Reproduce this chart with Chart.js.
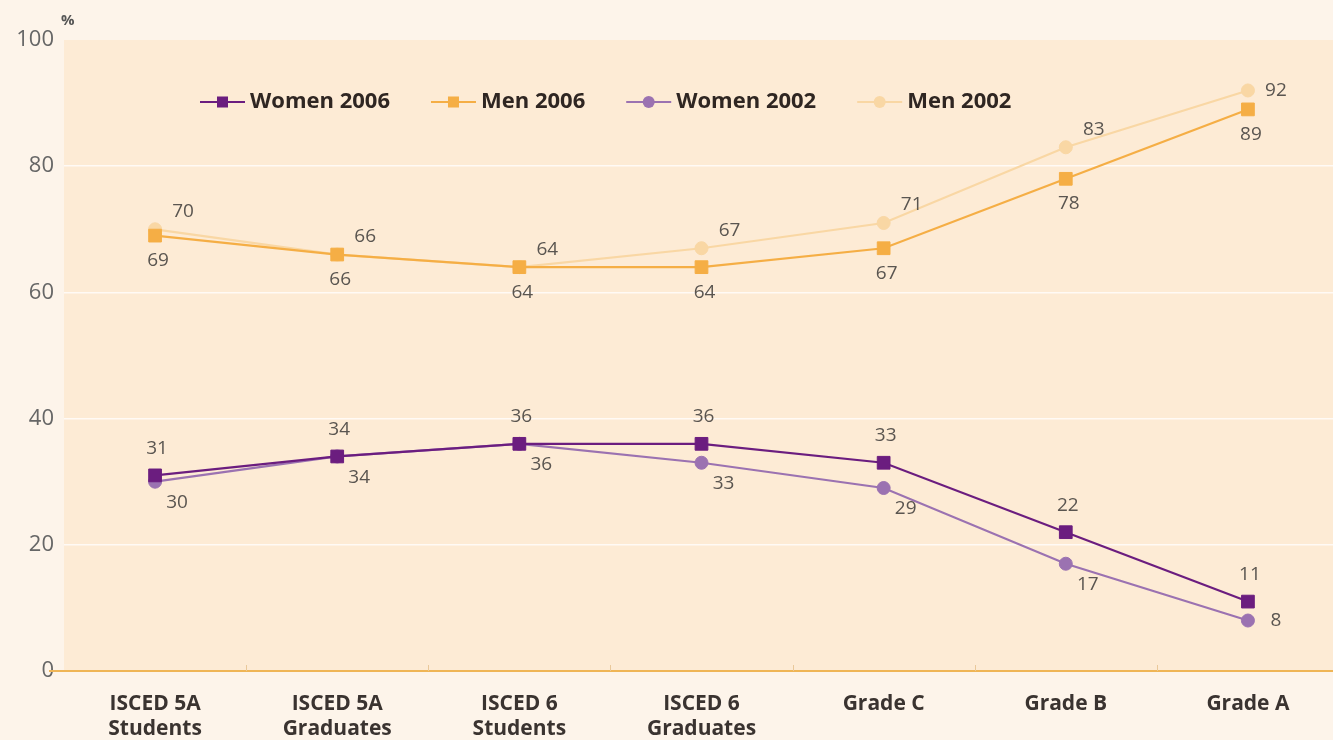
<!DOCTYPE html>
<html>
<head>
<meta charset="utf-8">
<script src="https://cdn.jsdelivr.net/npm/chart.js@4.4.1/dist/chart.umd.min.js"></script>
<style>
  html, body { margin: 0; padding: 0; background: #fdf4ea; }
  #wrap { width: 1333px; height: 740px; overflow: hidden; }
</style>
</head>
<body>
<div id="wrap"><canvas id="c" width="1349" height="740"></canvas></div>
<script>
// categories on the x axis
const categories = [
  ['ISCED 5A', 'Students'],
  ['ISCED 5A', 'Graduates'],
  ['ISCED 6', 'Students'],
  ['ISCED 6', 'Graduates'],
  'Grade C',
  'Grade B',
  'Grade A'
];
const seriesNames = ['Women 2006', 'Men 2006', 'Women 2002', 'Men 2002'];
const women2006 = [31, 34, 36, 36, 33, 22, 11];
const men2006   = [69, 66, 64, 64, 67, 78, 89];
const women2002 = [30, 34, 36, 33, 29, 17, 8];
const men2002   = [70, 66, 64, 67, 71, 83, 92];
const yTicks = [0, 20, 40, 60, 80, 100];

const FONT = '"Open Sans", Lato, sans-serif';

function ds(label, data, color, style, radius, lbl) {
  return {
    label: label,
    data: data,
    borderColor: color,
    backgroundColor: color,
    borderWidth: 2.2,
    pointStyle: style,
    pointRadius: radius,
    pointHoverRadius: radius,
    pointBackgroundColor: color,
    pointBorderColor: color,
    pointBorderWidth: 1,
    tension: 0,
    lbl: lbl // where the value text sits relative to the point
  };
}

// background: page colour + cream plot panel
const panel = {
  id: 'panel',
  beforeDraw(chart) {
    const { ctx, chartArea: a } = chart;
    ctx.save();
    ctx.fillStyle = '#fdf4ea';
    ctx.fillRect(0, 0, chart.width, chart.height);
    ctx.fillStyle = '#fdebd5';
    ctx.fillRect(a.left, a.top, a.right - a.left, a.bottom - a.top);
    ctx.restore();
  },
  afterDraw(chart) {
    const { ctx, chartArea: a, scales } = chart;
    const x = scales.x;
    ctx.save();
    // x axis line with small ticks between categories
    ctx.strokeStyle = '#efb556';
    ctx.lineWidth = 2;
    ctx.beginPath();
    ctx.moveTo(a.left - 15, a.bottom);
    ctx.lineTo(a.right, a.bottom);
    ctx.stroke();
    ctx.lineWidth = 1;
    ctx.strokeStyle = '#e9c89a';
    for (let i = 1; i < categories.length; i++) {
      const px = Math.round((x.getPixelForValue(i - 1) + x.getPixelForValue(i)) / 2) + 0.5;
      ctx.beginPath();
      ctx.moveTo(px, a.bottom);
      ctx.lineTo(px, a.bottom - 6);
      ctx.stroke();
    }
    // unit
    ctx.fillStyle = '#555';
    ctx.font = 'bold 15px ' + FONT;
    ctx.textAlign = 'left';
    ctx.textBaseline = 'middle';
    ctx.fillText('%', a.left - 3, 21);
    ctx.restore();
  }
};

// value labels next to every point
const valueLabels = {
  id: 'valueLabels',
  afterDatasetsDraw(chart) {
    const { ctx } = chart;
    ctx.save();
    ctx.font = '19px ' + FONT;
    ctx.fillStyle = '#5a5550';
    ctx.textAlign = 'center';
    ctx.textBaseline = 'middle';
    chart.data.datasets.forEach((d, di) => {
      const meta = chart.getDatasetMeta(di);
      meta.data.forEach((pt, i) => {
        let [dx, dy] = d.lbl;
        if (i === meta.data.length - 1 && d.lbl[2]) { dx = 28; dy = 0; }
        ctx.fillText(String(d.data[i]), pt.x + dx, pt.y + dy);
      });
    });
    ctx.restore();
  }
};

// legend row inside the plot
const lineLegend = {
  id: 'lineLegend',
  afterDatasetsDraw(chart) {
    const { ctx } = chart;
    ctx.save();
    ctx.font = 'bold 22px ' + FONT;
    ctx.textBaseline = 'middle';
    ctx.textAlign = 'left';
    let x = 200;
    const y = 102;
    chart.data.datasets.forEach(d => {
      ctx.strokeStyle = d.borderColor;
      ctx.lineWidth = 2.2;
      ctx.beginPath();
      ctx.moveTo(x, y);
      ctx.lineTo(x + 45, y);
      ctx.stroke();
      ctx.fillStyle = d.borderColor;
      if (d.pointStyle === 'rect') {
        ctx.fillRect(x + 17, y - 5.5, 11, 11);
      } else {
        ctx.beginPath();
        ctx.arc(x + 22.5, y, 6, 0, Math.PI * 2);
        ctx.fill();
      }
      ctx.fillStyle = '#2f2622';
      ctx.fillText(d.label, x + 50, y);
      x += 50 + ctx.measureText(d.label).width + 41;
    });
    ctx.restore();
  }
};

new Chart(document.getElementById('c'), {
  type: 'line',
  data: {
    labels: categories,
    datasets: [
      ds(seriesNames[0], women2006, '#6b1d7f', 'rect', 9, [2, -27]),
      ds(seriesNames[1], men2006, '#f5ae45', 'rect', 9, [3, 25]),
      ds(seriesNames[2], women2002, '#9b72b1', 'circle', 6.5, [22, 21, true]),
      ds(seriesNames[3], men2002, '#f9d7a4', 'circle', 6.5, [28, -18, true])
    ]
  },
  options: {
    responsive: false,
    animation: false,
    layout: { padding: { top: 40, left: 0, right: 0, bottom: 0 } },
    plugins: {
      legend: { display: false },
      tooltip: { enabled: false }
    },
    scales: {
      x: {
        offset: true,
        grid: { display: false },
        border: { display: false },
        ticks: {
          color: '#3a3330',
          font: { family: FONT, size: 21, weight: 'bold', lineHeight: 1.22 },
          padding: 12,
          maxRotation: 0,
          autoSkip: false
        },
        afterFit(s) { s.height = 69; }
      },
      y: {
        min: 0,
        max: 100,
        afterBuildTicks(s) { s.ticks = yTicks.map(v => ({ value: v })); },
        grid: {
          color: ctx => (ctx.tick.value === 0 || ctx.tick.value === 100) ? 'rgba(0,0,0,0)' : 'rgba(255,255,255,0.75)',
          lineWidth: 1.5,
          drawTicks: false
        },
        border: { display: false },
        ticks: {
          color: '#666',
          font: { family: FONT, size: 22 },
          padding: 10
        },
        afterFit(s) { s.width = 64; }
      }
    }
  },
  plugins: [panel, valueLabels, lineLegend]
});
</script>
</body>
</html>
